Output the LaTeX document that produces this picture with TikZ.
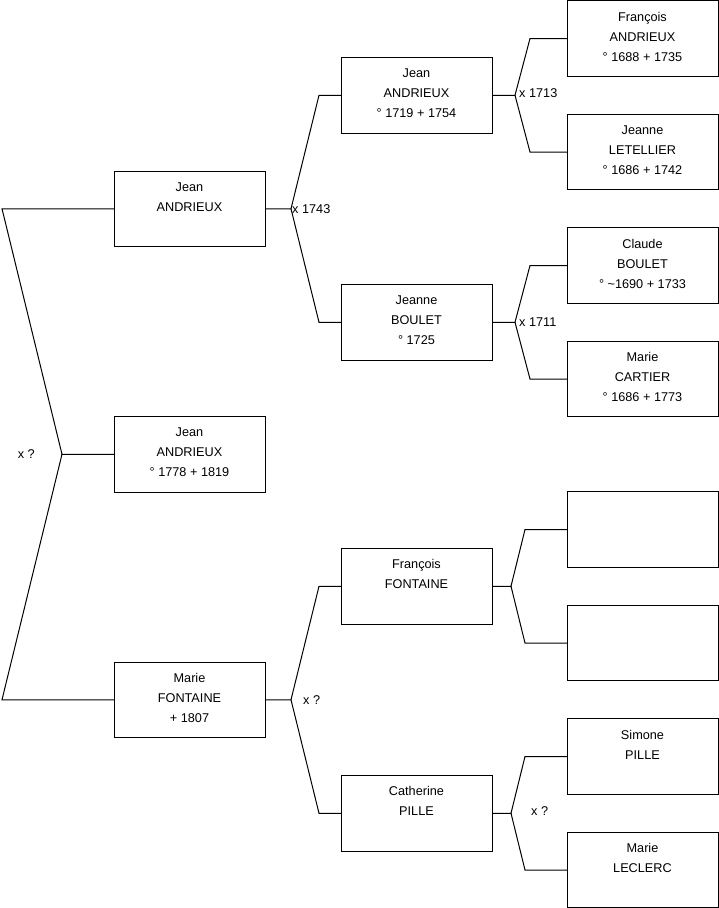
\documentclass[tikz,border=0pt]{standalone}
\usepackage{fontspec}
\setmainfont{Liberation Sans}
\usetikzlibrary{positioning, calc}
\newcommand\pad{\rule[-4pt]{0pt}{4pt}}

\begin{document}
\begin{tikzpicture}[
  x=1pt, y=1pt,
  person/.style={rectangle, draw, line width=1pt, outer sep=0pt, inner sep=0pt, minimum width=151pt, minimum height=75.5pt, align=center, font=\fontsize{12.7}{20}\selectfont},
  link/.style={line width=1pt},
  union/.style={font=\fontsize{12.7}{15}\selectfont, inner sep=1pt}
]
\useasboundingbox (0,0) rectangle (719,-908);

% ── Great-grandparents (right column) ─────────────────────────
\node[person] (fa) at (642.5,-38.5) {François\\ANDRIEUX\\° 1688 + 1735\pad};
\node[person, below=38pt of fa] (jl) {Jeanne\\LETELLIER\\° 1686 + 1742\pad};
\node[person, below=38pt of jl] (cb) {Claude\\BOULET\\° \textasciitilde1690 + 1733\pad};
\node[person, below=38pt of cb] (mc) {Marie\\CARTIER\\° 1686 + 1773\pad};
\node[person, below=75pt of mc] (u1) {};
\node[person, below=38pt of u1] (u2) {};
\node[person, below=38pt of u2] (sp) {Simone\\PILLE\\\pad};
\node[person, below=38pt of sp] (ml) {Marie\\LECLERC\\\pad};

% ── Grandparents (middle column) ──────────────────────────────
\coordinate (m1) at ($(fa.west)!0.5!(jl.west)$);
\coordinate (m2) at ($(cb.west)!0.5!(mc.west)$);
\coordinate (m3) at ($(u1.west)!0.5!(u2.west)$);
\coordinate (m4) at ($(sp.west)!0.5!(ml.west)$);
\node[person, left=75pt of m1] (ja2) {Jean\\ANDRIEUX\\° 1719 + 1754\pad};
\node[person, left=75pt of m2] (jb)  {Jeanne\\BOULET\\° 1725\pad};
\node[person, left=75pt of m3] (ff)  {François\\FONTAINE\\\pad};
\node[person, left=75pt of m4] (cp)  {Catherine\\PILLE\\\pad};

% ── Parents and child (left column) ───────────────────────────
\coordinate (m5) at ($(ja2.west)!0.5!(jb.west)$);
\coordinate (m6) at ($(ff.west)!0.5!(cp.west)$);
\node[person, left=76pt of m5] (ja1) {Jean\\ANDRIEUX\\\pad};
\node[person, left=76pt of m6] (mf)  {Marie\\FONTAINE\\+ 1807\pad};
\node[person] (jc) at ($(ja1)!0.5!(mf)$) {Jean\\ANDRIEUX\\° 1778 + 1819\pad};

% ── Forks ─────────────────────────────────────────────────────
\draw[link] (jc.west) -- ++(-52,0) coordinate (f0) -- ($(ja1.west)+(-112,0)$) -- (ja1.west);
\draw[link] (f0) -- ($(mf.west)+(-112,0)$) -- (mf.west);

\draw[link] (ja1.east) -- ++(26,0) coordinate (f1) -- ($(ja2.west)+(-22,0)$) -- (ja2.west);
\draw[link] (f1) -- ($(jb.west)+(-22,0)$) -- (jb.west);
\draw[link] (mf.east) -- ++(26,0) coordinate (f2) -- ($(ff.west)+(-22,0)$) -- (ff.west);
\draw[link] (f2) -- ($(cp.west)+(-22,0)$) -- (cp.west);

\draw[link] (ja2.east) -- ++(23,0) coordinate (f3) -- ($(fa.west)+(-37,0)$) -- (fa.west);
\draw[link] (f3) -- ($(jl.west)+(-37,0)$) -- (jl.west);
\draw[link] (jb.east) -- ++(23,0) coordinate (f4) -- ($(cb.west)+(-37,0)$) -- (cb.west);
\draw[link] (f4) -- ($(mc.west)+(-37,0)$) -- (mc.west);
\draw[link] (ff.east) -- ++(19,0) coordinate (f5) -- ($(u1.west)+(-42,0)$) -- (u1.west);
\draw[link] (f5) -- ($(u2.west)+(-42,0)$) -- (u2.west);
\draw[link] (cp.east) -- ++(19,0) coordinate (f6) -- ($(sp.west)+(-42,0)$) -- (sp.west);
\draw[link] (f6) -- ($(ml.west)+(-42,0)$) -- (ml.west);

% ── Marriage labels ───────────────────────────────────────────
\node[union, left=26pt of f0]                (x0) {x ?};
\node[union, right=0pt of f1]                (x1) {x 1743};
\node[union, right=11pt of f2]               (x2) {x ?};
\node[union, right=3pt of f3, yshift=2pt]    (x3) {x 1713};
\node[union, right=3pt of f4]                (x4) {x 1711};
\node[union, right=19pt of f6, yshift=2pt]   (x6) {x ?};
\end{tikzpicture}
\end{document}
